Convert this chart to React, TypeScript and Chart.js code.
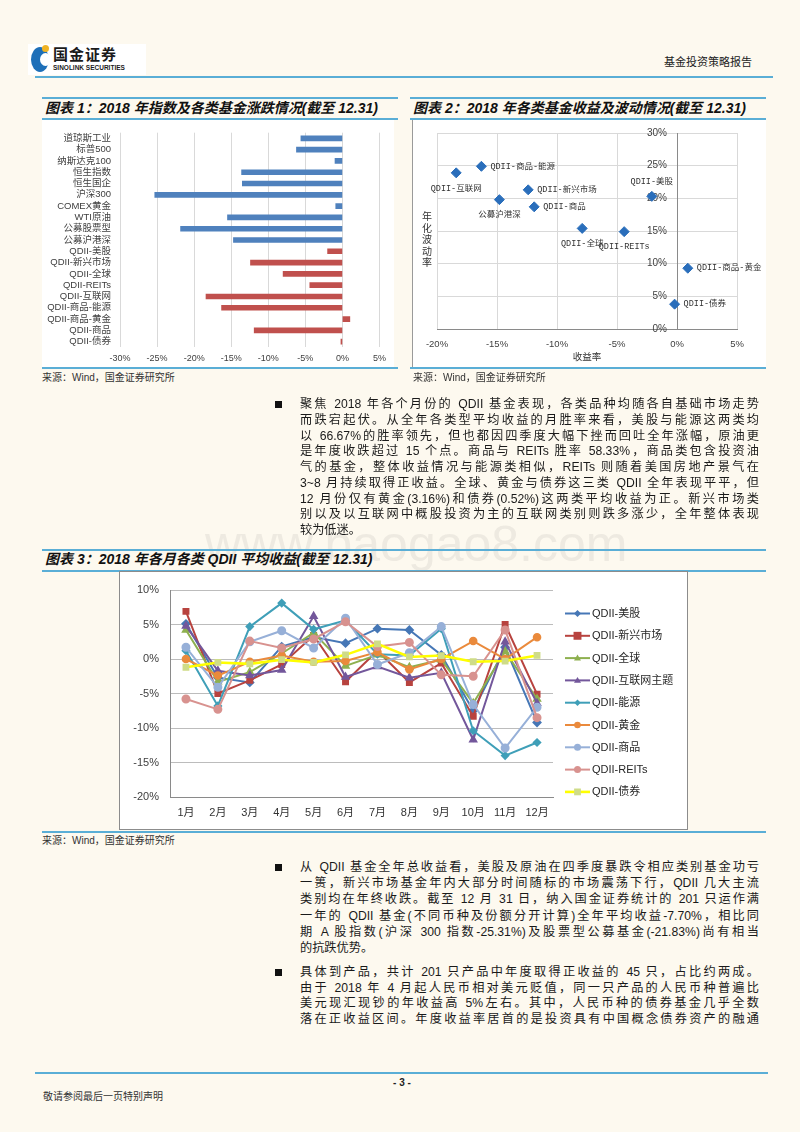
import React, { useEffect, useRef } from "react";
import { Chart, registerables } from "chart.js";

Chart.register(...registerables);

const FONT = '"Liberation Sans", "Noto Sans CJK SC", sans-serif';
Chart.defaults.font.family = FONT;

// ---------- Chart 1 data ----------
const indexCategories = [
  "道琼斯工业", "标普500", "纳斯达克100", "恒生指数", "恒生国企", "沪深300",
  "COMEX黄金", "WTI原油", "公募股票型", "公募沪港深", "QDII-美股", "QDII-新兴市场",
  "QDII-全球", "QDII-REITs", "QDII-互联网", "QDII-商品-能源", "QDII-商品-黄金",
  "QDII-商品", "QDII-债券",
];
const indexReturns = [
  -5.6, -6.2, -1.0, -13.6, -13.5, -25.31, -0.9, -15.5, -21.83, -14.7,
  -2.0, -12.4, -8.0, -4.4, -18.4, -16.3, 1.0, -11.9, -0.2,
];
const firstQdiiIndex = 10;
const barTicks = [-30, -25, -20, -15, -10, -5, 0, 5];

// ---------- Chart 2 data ----------
const scatterNames = [
  "QDII-互联网", "QDII-商品-能源", "QDII-新兴市场", "公募沪港深", "QDII-商品",
  "QDII-全球", "QDII-REITs", "QDII-美股", "QDII-商品-黄金", "QDII-债券",
];
const scatterReturns = [-18.4, -16.3, -12.4, -14.8, -11.9, -7.9, -4.4, -2.1, 0.9, -0.2];
const scatterVolatility = [23.9, 24.9, 21.3, 19.8, 18.7, 15.4, 14.9, 20.3, 9.3, 3.8];

// ---------- Chart 3 data ----------
const monthLabels = ["1月", "2月", "3月", "4月", "5月", "6月", "7月", "8月", "9月", "10月", "11月", "12月"];
const seriesNames = [
  "QDII-美股", "QDII-新兴市场", "QDII-全球", "QDII-互联网主题", "QDII-能源",
  "QDII-黄金", "QDII-商品", "QDII-REITs", "QDII-债券",
];
const usEquity = [5.1, -2.7, -3.4, 1.8, 3.2, 2.3, 4.4, 4.2, 0.6, -7.5, 1.7, -9.2];
const emergingMarkets = [6.9, -5.0, -3.1, -0.8, 3.4, -3.3, 1.2, -3.4, -0.6, -8.3, 5.0, -5.1];
const globalEquity = [4.2, -3.3, -1.9, 0.8, 3.8, -1.0, 0.6, -1.2, -0.1, -6.4, 1.1, -5.8];
const internetTheme = [4.8, -1.7, -2.4, -1.6, 6.2, -2.6, -1.1, -2.7, -2.0, -11.7, 2.5, -6.4];
const energy = [1.2, -6.8, 4.7, 8.1, 4.3, 5.6, 0.7, 0.5, 4.4, -10.4, -14.0, -12.1];
const gold = [0.0, -2.4, -0.4, 0.5, -0.4, -0.3, 1.0, -1.5, 0.0, 2.6, 0.0, 3.16];
const commodities = [1.7, -4.1, 2.5, 4.1, 1.6, 5.9, -0.8, 0.9, 4.7, -6.6, -12.9, -7.0];
const reits = [-5.8, -7.3, 2.6, 1.6, 2.9, 5.4, 1.8, 2.4, -2.3, -2.5, 4.2, -8.5];
const bonds = [-1.2, -0.5, -0.7, -0.1, -0.5, 0.6, 2.2, 0.3, 0.5, -0.4, -0.3, 0.52];
const seriesValues = [usEquity, emergingMarkets, globalEquity, internetTheme, energy, gold, commodities, reits, bonds];

// ---------- Text ----------
const para1 = [
  "聚焦 2018 年各个月份的 QDII 基金表现，各类品种均随各自基础市场走势",
  "而跌宕起伏。从全年各类型平均收益的月胜率来看，美股与能源这两类均",
  "以 66.67%的胜率领先，但也都因四季度大幅下挫而回吐全年涨幅，原油更",
  "是年度收跌超过 15 个点。商品与 REITs 胜率 58.33%，商品类包含投资油",
  "气的基金，整体收益情况与能源类相似，REITs 则随着美国房地产景气在",
  "3~8 月持续取得正收益。全球、黄金与债券这三类 QDII 全年表现平平，但",
  "12 月份仅有黄金(3.16%)和债券(0.52%)这两类平均收益为正。新兴市场类",
  "别以及以互联网中概股投资为主的互联网类别则跌多涨少，全年整体表现",
  "较为低迷。",
];
const para2 = [
  "从 QDII 基金全年总收益看，美股及原油在四季度暴跌令相应类别基金功亏",
  "一篑，新兴市场基金年内大部分时间随标的市场震荡下行，QDII 几大主流",
  "类别均在年终收跌。截至 12 月 31 日，纳入国金证券统计的 201 只运作满",
  "一年的 QDII 基金(不同币种及份额分开计算)全年平均收益-7.70%，相比同",
  "期 A 股指数(沪深 300 指数-25.31%)及股票型公募基金(-21.83%)尚有相当",
  "的抗跌优势。",
];
const para3 = [
  "具体到产品，共计 201 只产品中年度取得正收益的 45 只，占比约两成。",
  "由于 2018 年 4 月起人民币相对美元贬值，同一只产品的人民币种普遍比",
  "美元现汇现钞的年收益高 5%左右。其中，人民币种的债券基金几乎全数",
  "落在正收益区间。年度收益率居首的是投资具有中国概念债券资产的融通",
];

const BLUE_LINE = "#5aaed6";
const pct = (v: any) => v + "%";

function BarChart() {
  const ref = useRef<HTMLCanvasElement>(null);
  useEffect(() => {
    const chart = new Chart(ref.current!, {
      type: "bar",
      data: {
        labels: indexCategories,
        datasets: [
          {
            data: indexReturns,
            backgroundColor: indexReturns.map((_, i) => (i < firstQdiiIndex ? "#4f81bd" : "#c0504d")),
            barThickness: 5,
          },
        ],
      },
      options: {
        indexAxis: "y",
        responsive: false,
        animation: false,
        layout: { padding: { left: 0, right: 11, top: 10, bottom: 0 } },
        plugins: { legend: { display: false }, tooltip: { enabled: false } },
        scales: {
          x: {
            min: barTicks[0],
            max: barTicks[barTicks.length - 1],
            afterBuildTicks: (s: any) => { s.ticks = barTicks.map((v) => ({ value: v })); },
            ticks: { callback: pct, font: { size: 9 }, color: "#404040", padding: 6 },
            grid: { color: "#d9d9d9", drawTicks: false },
            border: { display: false },
            afterFit: (s: any) => { s.height = 14; },
          },
          y: {
            grid: { display: false, drawTicks: false },
            border: { display: false },
            ticks: { font: { size: 9.5 }, color: "#404040", padding: 9, autoSkip: false },
            afterFit: (s: any) => { s.width = 80; },
          },
        },
      },
    });
    return () => chart.destroy();
  }, []);
  return <canvas ref={ref} width={352} height={244} style={{ position: "absolute", left: 40, top: 118 }} />;
}

const labelsBelow = new Set(["QDII-互联网", "公募沪港深", "QDII-全球", "QDII-REITs"]);
const labelsAbove = new Set(["QDII-美股"]);

const scatterLabelPlugin = {
  id: "scatterLabels",
  afterDatasetsDraw(chart: any) {
    const ctx = chart.ctx;
    const meta = chart.getDatasetMeta(0);
    ctx.save();
    ctx.font = '8.5px "Liberation Mono", "Noto Sans CJK SC", monospace';
    ctx.fillStyle = "#333";
    ctx.textBaseline = "middle";
    meta.data.forEach((pt: any, i: number) => {
      const name = scatterNames[i];
      if (labelsBelow.has(name)) {
        ctx.textAlign = "center";
        ctx.fillText(name, pt.x, pt.y + 15.5);
      } else if (labelsAbove.has(name)) {
        ctx.textAlign = "center";
        ctx.fillText(name, pt.x, pt.y - 15);
      } else {
        ctx.textAlign = "left";
        ctx.fillText(name, pt.x + 9, pt.y);
      }
    });
    ctx.restore();
  },
};

function ScatterChart() {
  const ref = useRef<HTMLCanvasElement>(null);
  useEffect(() => {
    const chart = new Chart(ref.current!, {
      type: "scatter",
      data: {
        datasets: [
          {
            data: scatterReturns.map((x, i) => ({ x, y: scatterVolatility[i] })),
            pointStyle: "rectRot",
            pointRadius: 5,
            backgroundColor: "#2a6ebb",
            borderColor: "#2a6ebb",
          },
        ],
      },
      options: {
        responsive: false,
        animation: false,
        layout: { padding: { left: 25, right: 29, top: 13, bottom: 0 } },
        plugins: { legend: { display: false }, tooltip: { enabled: false } },
        scales: {
          x: {
            type: "linear",
            min: -20,
            max: 5,
            ticks: { stepSize: 5, callback: pct, font: { size: 9.5 }, color: "#404040", padding: 10 },
            grid: { color: "#d9d9d9", drawTicks: false },
            border: { display: true, color: "#8a8a8a" },
            title: { display: true, text: "收益率", font: { size: 9.5 }, color: "#333", padding: { top: 0, bottom: 5 } },
            afterFit: (s: any) => { s.height = 39; },
          },
          y: {
            position: { x: 0 } as any,
            min: 0,
            max: 30,
            // trailing em space keeps the labels clear of the axis line drawn at x = 0
            ticks: { stepSize: 5, callback: (v: any) => v + "%\u2003", font: { size: 10 }, color: "#404040", padding: 8 },
            grid: { color: "#d9d9d9", drawTicks: false },
            border: { display: true, color: "#8a8a8a" },
          },
        },
      },
      plugins: [scatterLabelPlugin],
    });
    return () => chart.destroy();
  }, []);
  return <canvas ref={ref} width={354} height={249} style={{ position: "absolute", left: 412, top: 119 }} />;
}

const seriesStyles = [
  { color: "#4677b6", marker: "rectRot", r: 3.5, fill: "#4677b6" },
  { color: "#b8433f", marker: "rect", r: 3.5, fill: "#b8433f" },
  { color: "#8eb04f", marker: "triangle", r: 3.5, fill: "#8eb04f" },
  { color: "#73579b", marker: "triangle", r: 3.5, fill: "#73579b" },
  { color: "#3f9fb8", marker: "rectRot", r: 3.2, fill: "#3f9fb8" },
  { color: "#ea8a3c", marker: "circle", r: 3.3, fill: "#ea8a3c" },
  { color: "#97b0d8", marker: "circle", r: 3.5, fill: "#97b0d8" },
  { color: "#d8928f", marker: "circle", r: 3.5, fill: "#d8928f" },
  { color: "#ffff00", marker: "rect", r: 3, fill: "#cfdc88" },
];

function drawMarker(ctx: CanvasRenderingContext2D, style: string, x: number, y: number, r: number, color: string) {
  ctx.save();
  ctx.fillStyle = color;
  ctx.beginPath();
  if (style === "circle") {
    ctx.arc(x, y, r, 0, Math.PI * 2);
  } else if (style === "rect") {
    const s = r * Math.SQRT1_2 * 1.6;
    ctx.rect(x - s, y - s, s * 2, s * 2);
  } else if (style === "rectRot") {
    ctx.moveTo(x, y - r);
    ctx.lineTo(x + r, y);
    ctx.lineTo(x, y + r);
    ctx.lineTo(x - r, y);
    ctx.closePath();
  } else if (style === "triangle") {
    ctx.moveTo(x, y - r);
    ctx.lineTo(x + r, y + r * 0.7);
    ctx.lineTo(x - r, y + r * 0.7);
    ctx.closePath();
  }
  ctx.fill();
  ctx.restore();
}

const lineLegendPlugin = {
  id: "lineLegend",
  afterDraw(chart: any) {
    const ctx = chart.ctx;
    ctx.save();
    chart.data.datasets.forEach((ds: any, i: number) => {
      const st = seriesStyles[i];
      const y = 42.5 + i * 22.3;
      const x0 = 446;
      const x1 = 471;
      ctx.strokeStyle = st.color;
      ctx.lineWidth = ds.borderWidth;
      ctx.beginPath();
      ctx.moveTo(x0, y);
      ctx.lineTo(x1, y);
      ctx.stroke();
      drawMarker(ctx, st.marker, (x0 + x1) / 2, y, st.r, st.fill);
      ctx.fillStyle = "#262626";
      ctx.font = '11px "Liberation Sans", "Noto Sans CJK SC", sans-serif';
      ctx.textBaseline = "middle";
      ctx.textAlign = "left";
      ctx.fillText(ds.label, 473, y + 0.5);
    });
    ctx.restore();
  },
};

function LineChart() {
  const ref = useRef<HTMLCanvasElement>(null);
  useEffect(() => {
    const chart = new Chart(ref.current!, {
      type: "line",
      data: {
        labels: monthLabels,
        datasets: seriesNames.map((name, i) => ({
          label: name,
          data: seriesValues[i],
          borderColor: seriesStyles[i].color,
          backgroundColor: seriesStyles[i].fill,
          pointBackgroundColor: seriesStyles[i].fill,
          pointBorderColor: seriesStyles[i].fill,
          pointStyle: seriesStyles[i].marker as any,
          pointRadius: seriesStyles[i].r,
          borderWidth: i === 8 ? 2.6 : 2,
          tension: 0,
          order: seriesNames.length - i,
        })),
      },
      options: {
        responsive: false,
        animation: false,
        layout: { padding: { left: 0, right: 135, top: 19, bottom: 0 } },
        plugins: { legend: { display: false }, tooltip: { enabled: false } },
        scales: {
          x: {
            offset: true,
            grid: { display: false, drawTicks: false },
            border: { display: true, color: "#8a8a8a" },
            ticks: { font: { size: 11 }, color: "#333", padding: 9 },
            afterFit: (s: any) => { s.height = 32; },
          },
          y: {
            min: -20,
            max: 10,
            ticks: { stepSize: 5, callback: pct, font: { size: 11 }, color: "#404040", padding: 11 },
            grid: { color: "#bcbcbc", drawTicks: false },
            border: { display: true, color: "#8a8a8a" },
            afterFit: (s: any) => { s.width = 51; },
          },
        },
      },
      plugins: [lineLegendPlugin],
    });
    return () => chart.destroy();
  }, []);
  return <canvas ref={ref} width={569} height={258} style={{ position: "absolute", left: 119, top: 571 }} />;
}

const abs = (l: number, t: number, extra: React.CSSProperties = {}): React.CSSProperties => ({
  position: "absolute",
  left: l,
  top: t,
  ...extra,
});

function HLine({ x1, x2, y, h = 2, color = BLUE_LINE }: { x1: number; x2: number; y: number; h?: number; color?: string }) {
  return <div style={abs(x1, y, { width: x2 - x1, height: h, background: color })} />;
}

function Title({ x, y, text }: { x: number; y: number; text: string }) {
  return (
    <div
      style={abs(x, y, {
        fontSize: 14,
        fontWeight: "bold",
        fontStyle: "italic",
        lineHeight: "18px",
        whiteSpace: "nowrap",
        color: "#111",
      })}
    >
      {text}
    </div>
  );
}

function Source({ x, y }: { x: number; y: number }) {
  return (
    <div style={abs(x, y, { fontSize: 10, lineHeight: "12px", color: "#333", whiteSpace: "nowrap" })}>
      来源：Wind，国金证券研究所
    </div>
  );
}

function Paragraph({ lines, top, lh, continues = false }: { lines: string[]; top: number; lh: number; continues?: boolean }) {
  return (
    <>
      <div style={abs(275, top + lh / 2 - 3.5, { width: 7, height: 7, background: "#111" })} />
      <div style={abs(300, top, { width: 459, fontSize: 12.2, lineHeight: lh + "px", color: "#1a1a1a" })}>
        {lines.map((l, i) => {
          const last = i === lines.length - 1 && !continues;
          return (
            <div
              key={i}
              style={{
                textAlign: last ? "left" : "justify",
                textAlignLast: last ? "left" : "justify",
                height: lh,
                overflow: "visible",
              }}
            >
              {l}
            </div>
          );
        })}
      </div>
    </>
  );
}

export default function App() {
  const yTitle = "年化波动率";
  return (
    <div
      style={{
        position: "absolute",
        left: 0,
        top: 0,
        width: 800,
        height: 1132,
        background: "#fdf9ef",
        overflow: "hidden",
        fontFamily: FONT,
      }}
    >
      {/* watermark */}
      <div
        style={abs(205, 515, {
          fontSize: 50,
          color: "rgba(110,110,110,0.10)",
          whiteSpace: "nowrap",
          fontFamily: '"Liberation Sans", sans-serif',
        })}
      >
        www.baogao8.com
      </div>

      {/* header logo */}
      <div style={abs(28, 44, { width: 118, height: 31, background: "#ffffff" })} />
      <div style={abs(31, 47, { width: 18, height: 25, borderRadius: "50%", background: "#1d6fb8" })} />
      <div style={abs(40, 53, { width: 11, height: 13, borderRadius: "50%", background: "#ffffff" })} />
      <div style={abs(42, 45, { width: 7, height: 7, borderRadius: "50%", background: "#f0b323" })} />
      <div style={abs(53, 46, { fontSize: 15, fontWeight: "bold", lineHeight: "17px", color: "#1b1b1b", letterSpacing: 1, whiteSpace: "nowrap" })}>
        国金证券
      </div>
      <div style={abs(53, 64, { fontSize: 6.5, fontWeight: "bold", lineHeight: "8px", color: "#1b1b1b", whiteSpace: "nowrap" })}>
        SINOLINK SECURITIES
      </div>
      <div style={abs(664, 55, { fontSize: 11, lineHeight: "14px", color: "#222", whiteSpace: "nowrap" })}>基金投资策略报告</div>
      <HLine x1={35} x2={773} y={76} />

      {/* chart 1 */}
      <HLine x1={42} x2={398} y={97} />
      <Title x={45} y={99} text="图表 1：2018 年指数及各类基金涨跌情况(截至 12.31)" />
      <HLine x1={42} x2={398} y={118} />
      <div style={abs(42, 120, { width: 352, height: 247, background: "#ffffff" })} />
      <BarChart />
      <HLine x1={42} x2={398} y={367} h={2} />
      <Source x={42} y={372} />

      {/* chart 2 */}
      <HLine x1={410} x2={766} y={97} />
      <Title x={413} y={99} text="图表 2：2018 年各类基金收益及波动情况(截至 12.31)" />
      <HLine x1={410} x2={766} y={118} />
      <div style={abs(412, 120, { width: 354, height: 248, background: "#ffffff", borderLeft: "1px solid #9a9a9a", boxSizing: "border-box" })} />
      <ScatterChart />
      <div style={abs(421, 211, { width: 12, fontSize: 10, lineHeight: "11.5px", color: "#333", textAlign: "center" })}>
        {yTitle.split("").map((c, i) => (
          <div key={i}>{c}</div>
        ))}
      </div>
      <HLine x1={410} x2={766} y={367} h={2} />
      <Source x={413} y={372} />

      {/* paragraph 1 */}
      <Paragraph lines={para1} top={397} lh={15.75} />

      {/* chart 3 */}
      <HLine x1={42} x2={766} y={549} />
      <Title x={45} y={550} text="图表 3：2018 年各月各类 QDII 平均收益(截至 12.31)" />
      <HLine x1={42} x2={766} y={570} />
      <div style={abs(119, 571, { width: 569, height: 259, background: "#ffffff", border: "1px solid #8c8c8c", boxSizing: "border-box" })} />
      <LineChart />
      <HLine x1={42} x2={766} y={831} />
      <Source x={42} y={835} />

      {/* paragraphs 2, 3 */}
      <Paragraph lines={para2} top={859} lh={16.2} />
      <Paragraph lines={para3} top={965} lh={15.7} continues />

      {/* footer */}
      <HLine x1={35} x2={768} y={1072} />
      <div style={abs(380, 1077, { width: 44, textAlign: "center", fontSize: 10, fontWeight: "bold", lineHeight: "12px", color: "#222" })}>
        - 3 -
      </div>
      <div style={abs(43, 1091, { fontSize: 10, lineHeight: "12px", color: "#333", whiteSpace: "nowrap" })}>
        敬请参阅最后一页特别声明
      </div>
    </div>
  );
}
